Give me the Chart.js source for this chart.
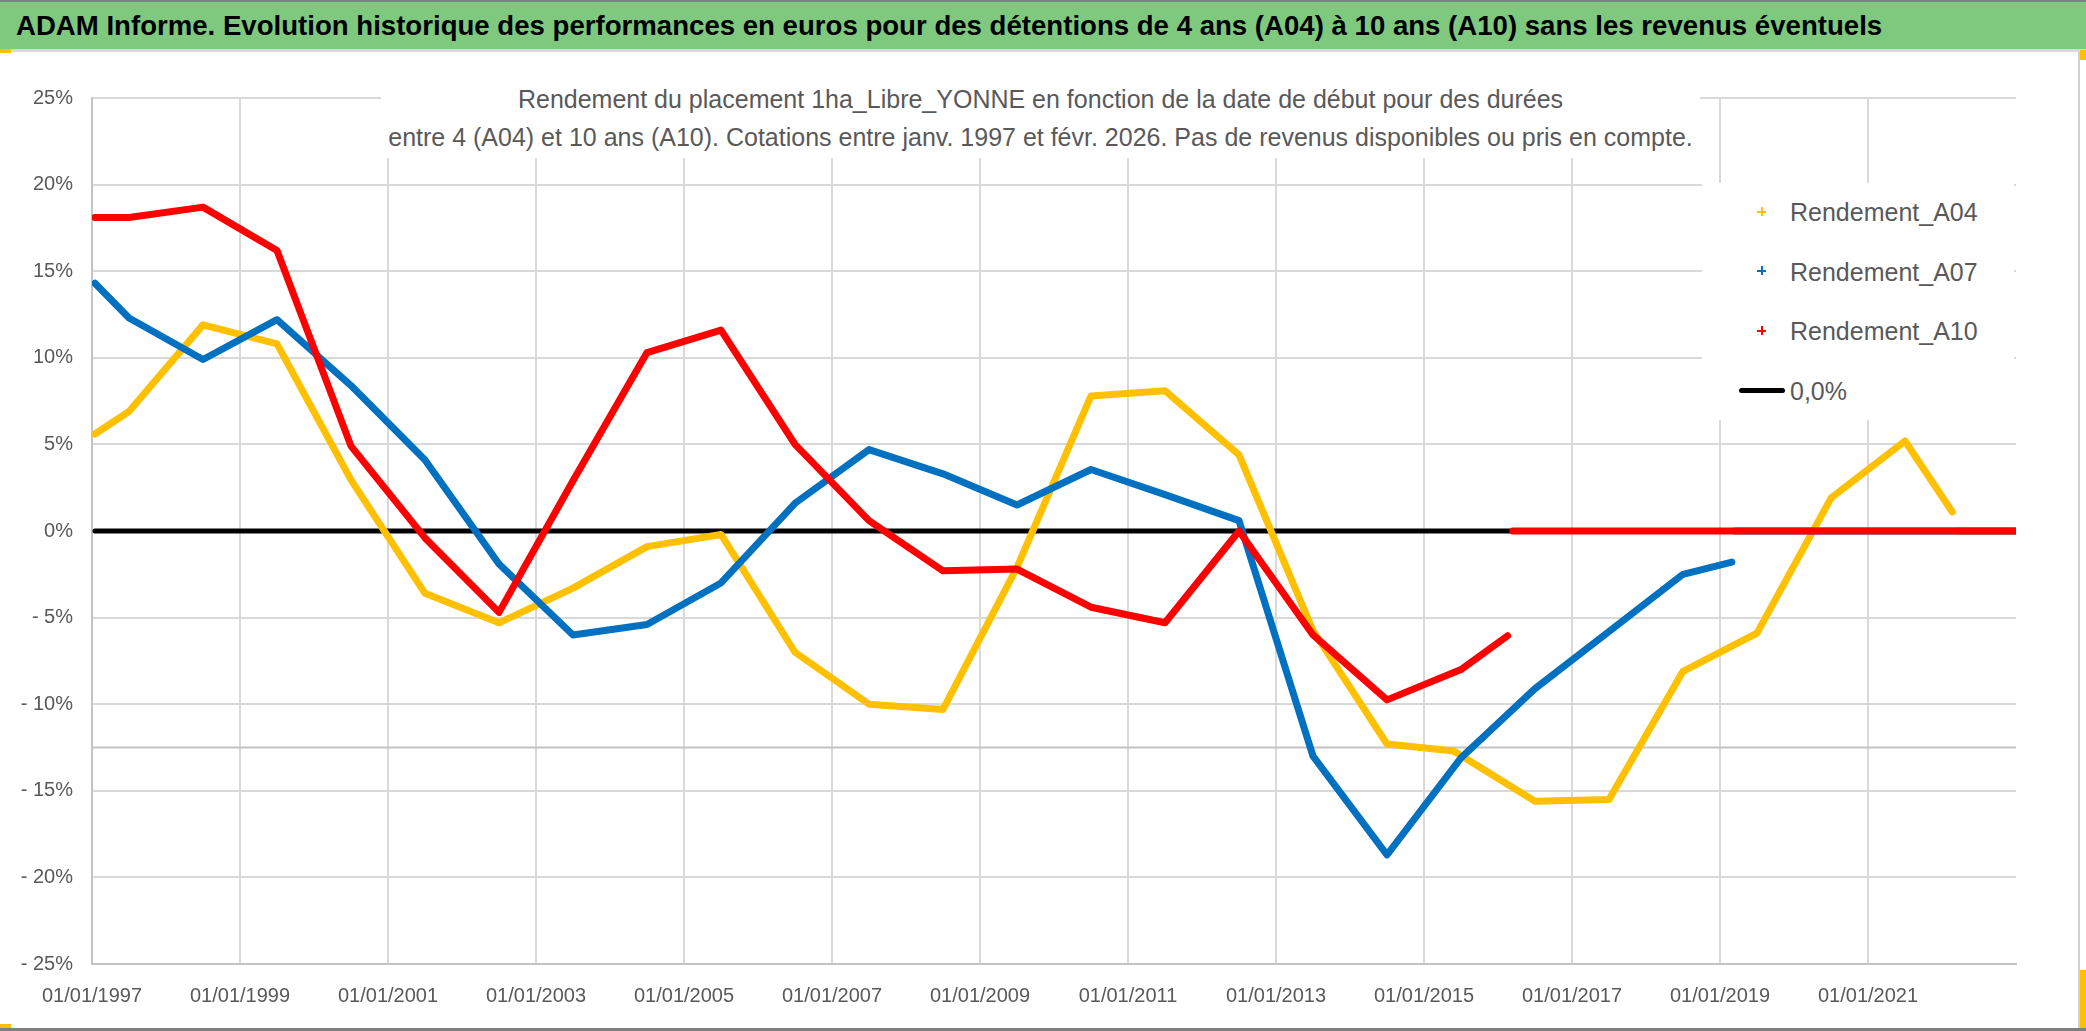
<!DOCTYPE html>
<html>
<head>
<meta charset="utf-8">
<script src="https://cdn.jsdelivr.net/npm/chart.js@4.4.1/dist/chart.umd.min.js"></script>
<style>
  body { margin: 0; background: #fff; }
  #page { position: relative; width: 2086px; height: 1031px; overflow: hidden; background: #fff;
          font-family: "Liberation Sans", Arial, sans-serif; }
  #topline { position: absolute; left: 0; top: 0; width: 2086px; height: 2px; background: #7f7f7f; }
  #banner { position: absolute; left: 0; top: 2px; width: 2086px; height: 47px; background: #7fc97f; }
  #banner div { position: absolute; left: 16px; top: 0; line-height: 47px; font-size: 27.6px; font-weight: bold;
                color: #000; white-space: nowrap; }
  #bannerline { position: absolute; left: 0; top: 49px; width: 2086px; height: 3px; background: #d9d9d9; }
  #frameRight { position: absolute; left: 2078px; top: 52px; width: 2px; height: 976px; background: #d0d0d0; }
  #bottomline { position: absolute; left: 0; top: 1028px; width: 2086px; height: 3px; background: #7f7f7f; }
  .handle { position: absolute; background: #ffc000; }
  #chartBox { position: absolute; left: 0; top: 52px; width: 2078px; height: 976px; }
  #subtitle { position: absolute; left: 381px; top: 60px; width: 1319px; height: 98px; background: #fff; }
  #subtitle div { position: absolute; left: 0; width: 100%; text-align: center; font-size: 25px; line-height: 33px;
                  color: #595959; white-space: nowrap; }
  #legend { position: absolute; left: 1702px; top: 183px; width: 312px; height: 237px; background: #fff; }
  .lg { position: absolute; left: 88px; font-size: 25px; line-height: 36px; color: #595959; white-space: nowrap; }
  .mk { position: absolute; width: 9px; height: 9px; }
  .mk:before, .mk:after { content: ""; position: absolute; background: currentColor; }
  .mk:before { left: 0; top: 3.5px; width: 9px; height: 2px; }
  .mk:after { left: 3.5px; top: 0; width: 2px; height: 9px; }
  #zeroMk { position: absolute; left: 37px; top: 205px; width: 46px; height: 5px; background: #000; border-radius: 3px; }
</style>
</head>
<body>
<div id="page">
  <div id="topline"></div>
  <div id="banner"><div>ADAM Informe. Evolution historique des performances en euros pour des détentions de 4 ans (A04) à 10 ans (A10) sans les revenus éventuels</div></div>
  <div id="bannerline"></div>
  <div class="handle" style="left:0;top:49px;width:11px;height:4px;"></div>
  <div class="handle" style="left:2080px;top:50px;width:6px;height:10px;"></div>
  <div class="handle" style="left:2080px;top:970px;width:6px;height:58px;"></div>
  <div class="handle" style="left:0;top:1024px;width:11px;height:4px;"></div>
  <div id="chartBox"><canvas id="chart" width="2078" height="976"></canvas></div>
  <div id="frameRight"></div>
  <div id="bottomline"></div>
  <div id="subtitle">
    <div style="top:23px;">Rendement du placement 1ha_Libre_YONNE en fonction de la date de début pour des durées</div>
    <div style="top:61px;">entre 4 (A04) et 10 ans (A10). Cotations entre janv. 1997 et févr. 2026. Pas de revenus disponibles ou pris en compte.</div>
  </div>
  <div id="legend">
    <div class="mk" style="left:55px;top:24px;color:#ffc000;"></div>
    <div class="lg" style="top:11px;">Rendement_A04</div>
    <div class="mk" style="left:55px;top:83px;color:#0070c0;"></div>
    <div class="lg" style="top:71px;">Rendement_A07</div>
    <div class="mk" style="left:55px;top:143px;color:#ff0000;"></div>
    <div class="lg" style="top:130px;">Rendement_A10</div>
    <div id="zeroMk"></div>
    <div class="lg" style="top:190px;">0,0%</div>
  </div>
</div>
<script>
// start dates as decimal years, returns in %
const a04Dates = [1997.04, 1997.5, 1998.5, 1999.5, 2000.5, 2001.5, 2002.5, 2003.5, 2004.5, 2005.5, 2006.5, 2007.5, 2008.5, 2009.5, 2010.5, 2011.5, 2012.5, 2013.5, 2014.5, 2015.4, 2016.5, 2017.5, 2018.5, 2019.5, 2020.5, 2021.5, 2022.14, 2022.17, 2022.2, 2023];
const a04Values = [5.6, 6.9, 11.9, 10.8, 2.95, -3.6, -5.3, -3.3, -0.9, -0.2, -7.0, -10.0, -10.3, -2.1, 7.8, 8.1, 4.4, -5.75, -12.3, -12.7, -15.6, -15.5, -8.1, -5.9, 1.9, 5.2, 1.1, null, 0, 0];

const a07Dates = [1997.04, 1997.5, 1998.5, 1999.5, 2000.5, 2001.5, 2002.5, 2003.5, 2004.5, 2005.5, 2006.5, 2007.5, 2008.5, 2009.5, 2010.5, 2011.5, 2012.5, 2013.5, 2014.5, 2015.5, 2016.5, 2017.5, 2018.5, 2019.16, 2019.18, 2019.2, 2023];
const a07Values = [14.3, 12.3, 9.9, 12.2, 8.4, 4.1, -1.9, -6.0, -5.4, -3.0, 1.6, 4.7, 3.3, 1.5, 3.55, 2.1, 0.6, -13.0, -18.7, -13.1, -9.1, -5.8, -2.5, -1.8, null, 0, 0];

const a10Dates = [1997.04, 1997.5, 1998.5, 1999.5, 2000.5, 2001.5, 2002.5, 2003.5, 2004.5, 2005.5, 2006.5, 2007.5, 2008.5, 2009.5, 2010.5, 2011.5, 2012.5, 2013.5, 2014.5, 2015.5, 2016.13, 2016.16, 2016.2, 2023];
const a10Values = [18.1, 18.1, 18.7, 16.2, 4.9, -0.4, -4.7, 2.9, 10.3, 11.6, 5.0, 0.6, -2.3, -2.2, -4.4, -5.3, 0.0, -6.0, -9.75, -8.0, -6.05, null, 0, 0];

const zeroDates = [1997.04, 2023];
const zeroValues = [0, 0];

const refLineDates = [1997, 2023];
const refLineValues = [-12.5, -12.5];

const tickYears = [1997, 1999, 2001, 2003, 2005, 2007, 2009, 2011, 2013, 2015, 2017, 2019, 2021, 2023];
const tickLabels = ["01/01/1997", "01/01/1999", "01/01/2001", "01/01/2003", "01/01/2005", "01/01/2007", "01/01/2009",
                    "01/01/2011", "01/01/2013", "01/01/2015", "01/01/2017", "01/01/2019", "01/01/2021", ""];

const toPoints = (dates, values) => dates.map((d, i) => ({ x: d, y: values[i] }));

const seriesLine = (label, color, dates, values) => ({
  label: label,
  data: toPoints(dates, values),
  borderColor: color,
  backgroundColor: color,
  borderWidth: 7,
  pointRadius: 0,
  borderJoinStyle: "round",
  borderCapStyle: "round",
  tension: 0
});

const ctx = document.getElementById("chart").getContext("2d");

new Chart(ctx, {
  type: "line",
  data: {
    datasets: [
      seriesLine("Rendement_A10", "#ff0000", a10Dates, a10Values),
      seriesLine("Rendement_A07", "#0070c0", a07Dates, a07Values),
      seriesLine("Rendement_A04", "#ffc000", a04Dates, a04Values),
      { label: "0,0%", data: toPoints(zeroDates, zeroValues), borderColor: "#000", borderWidth: 5, pointRadius: 0, borderCapStyle: "round" },
      { label: "ref", data: toPoints(refLineDates, refLineValues), borderColor: "#c4c4c4", borderWidth: 2, pointRadius: 0 }
    ]
  },
  options: {
    responsive: false,
    animation: false,
    devicePixelRatio: 1,
    layout: { padding: { top: 46, right: 62, left: 0, bottom: 0 } },
    plugins: { legend: { display: false }, tooltip: { enabled: false }, title: { display: false } },
    scales: {
      x: {
        type: "linear",
        min: 1997,
        max: 2023,
        afterBuildTicks: (scale) => { scale.ticks = tickYears.map(v => ({ value: v })); },
        afterFit: (scale) => { scale.height = 64; },
        ticks: {
          autoSkip: false,
          maxRotation: 0,
          padding: 20,
          color: "#595959",
          font: { family: "'Liberation Sans', Arial, sans-serif", size: 20 },
          callback: (value) => tickLabels[tickYears.indexOf(value)]
        },
        grid: {
          drawTicks: false,
          lineWidth: 2,
          color: (c) => (c.tick && c.tick.value === 2023 ? "rgba(0,0,0,0)" : "#d9d9d9")
        },
        border: { color: "#c4c4c4", width: 2 }
      },
      y: {
        min: -25,
        max: 25,
        afterFit: (scale) => { scale.width = 92; },
        ticks: {
          stepSize: 5,
          padding: 19,
          color: "#595959",
          font: { family: "'Liberation Sans', Arial, sans-serif", size: 20 },
          callback: (v) => (v < 0 ? "- " + (-v) + "%" : v + "%")
        },
        grid: { drawTicks: false, lineWidth: 2, color: "#d9d9d9" },
        border: { color: "#c4c4c4", width: 2 }
      }
    }
  }
});
</script>
</body>
</html>
